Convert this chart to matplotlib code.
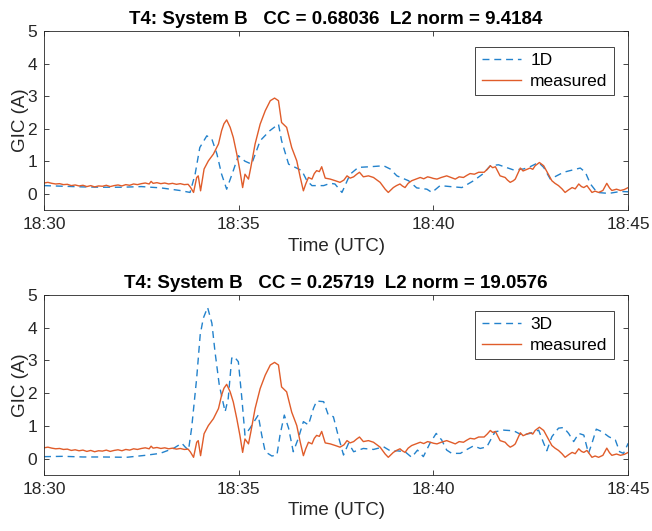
import matplotlib
matplotlib.use("Agg")
import matplotlib.pyplot as plt

# minutes after 18:30 UTC
meas_t = [0.0, 0.1, 0.2, 0.3, 0.4, 0.5, 0.6, 0.7, 0.8, 0.9, 1.0, 1.1, 1.2, 1.3, 1.4,
          1.5, 1.6, 1.7, 1.8, 1.9, 2.0, 2.1, 2.2, 2.3, 2.4, 2.5, 2.6, 2.7, 2.75, 2.8,
          2.9, 3.0, 3.1, 3.2, 3.3, 3.4, 3.5, 3.6, 3.7, 3.76, 3.84, 3.92, 3.96, 4.02,
          4.11, 4.22, 4.35, 4.48, 4.56, 4.62, 4.69, 4.78, 4.86, 4.95, 5.03, 5.1, 5.16,
          5.25, 5.31, 5.42, 5.55, 5.68, 5.81, 5.92, 6.02, 6.1, 6.23, 6.36, 6.49, 6.58,
          6.66, 6.72, 6.79, 6.88, 6.94, 7.0, 7.07, 7.13, 7.22, 7.35, 7.48, 7.6, 7.7,
          7.78, 7.86, 7.95, 8.03, 8.1, 8.2, 8.33, 8.46, 8.55, 8.63, 8.76, 8.84, 8.97,
          9.05, 9.14, 9.2, 9.27, 9.35, 9.44, 9.55, 9.66, 9.75, 9.85, 9.92, 10.0, 10.09,
          10.2, 10.34, 10.45, 10.56, 10.66, 10.77, 10.85, 10.94, 11.05, 11.16, 11.3,
          11.38, 11.46, 11.52, 11.59, 11.71, 11.84, 11.9, 11.97, 12.05, 12.1, 12.23,
          12.3, 12.36, 12.48, 12.55, 12.61, 12.72, 12.83, 12.95, 13.04, 13.12, 13.21,
          13.3, 13.38, 13.47, 13.56, 13.64, 13.73, 13.8, 13.86, 13.94, 14.07, 14.15,
          14.24, 14.35, 14.45, 14.52, 14.58, 14.7, 14.8, 14.9, 15.0]
meas_v = [0.33, 0.35, 0.32, 0.30, 0.31, 0.28, 0.29, 0.25, 0.27, 0.24, 0.26, 0.22, 0.25,
          0.21, 0.24, 0.23, 0.26, 0.22, 0.25, 0.27, 0.24, 0.28, 0.26, 0.30, 0.28, 0.31,
          0.33, 0.30, 0.38, 0.32, 0.34, 0.31, 0.33, 0.30, 0.32, 0.29, 0.31, 0.28, 0.29,
          0.20, 0.04, 0.50, 0.55, 0.09, 0.76, 1.01, 1.22, 1.53, 1.94, 2.15, 2.27, 2.04,
          1.73, 1.22, 0.71, 0.19, 0.60, 0.45, 0.81, 1.53, 2.14, 2.55, 2.86, 2.94, 2.86,
          2.19, 2.04, 1.42, 1.01, 0.50, 0.09, 0.30, 0.50, 0.45, 0.62, 0.71, 0.68, 0.83,
          0.48, 0.45, 0.40, 0.35, 0.42, 0.55, 0.48, 0.52, 0.60, 0.66, 0.52, 0.55, 0.50,
          0.42, 0.35, 0.14, 0.04, 0.19, 0.25, 0.30, 0.24, 0.19, 0.32, 0.40, 0.45, 0.50,
          0.46, 0.52, 0.50, 0.47, 0.45, 0.50, 0.55, 0.50, 0.45, 0.52, 0.50, 0.56, 0.62,
          0.60, 0.66, 0.66, 0.75, 0.86, 0.80, 0.83, 0.55, 0.50, 0.42, 0.35, 0.40, 0.45,
          0.79, 0.70, 0.73, 0.79, 0.75, 0.86, 0.96, 0.86, 0.60, 0.40, 0.32, 0.25, 0.15,
          0.04, 0.12, 0.19, 0.15, 0.30, 0.22, 0.19, 0.25, 0.04, 0.08, 0.04, 0.10, 0.32,
          0.18, 0.10, 0.14, 0.10, 0.13, 0.19]

m1d_t = [0.0, 0.5, 1.0, 1.5, 2.0, 2.5, 3.0, 3.49, 3.75, 3.88, 4.0, 4.18, 4.31, 4.44,
         4.56, 4.69, 4.86, 4.99, 5.16, 5.33, 5.55, 5.8, 6.02, 6.1, 6.28, 6.45, 6.62,
         6.75, 6.88, 7.18, 7.35, 7.47, 7.65, 7.86, 8.07, 8.37, 8.72, 8.89, 9.06, 9.36,
         9.57, 9.83, 9.96, 10.17, 10.43, 10.73, 11.03, 11.28, 11.46, 11.67, 12.06,
         12.31, 12.48, 12.7, 12.83, 13.0, 13.34, 13.77, 13.9, 14.03, 14.2, 14.5, 14.8,
         15.0]
m1d_v = [0.25, 0.23, 0.21, 0.2, 0.2, 0.22, 0.18, 0.1, 0.04, 0.6, 1.42, 1.78, 1.68, 1.22,
         0.6, 0.14, 0.71, 1.17, 1.0, 0.91, 1.63, 1.94, 2.14, 1.63, 0.91, 0.81, 0.71,
         0.4, 0.25, 0.25, 0.32, 0.3, 0.04, 0.6, 0.81, 0.83, 0.86, 0.76, 0.55, 0.4, 0.18,
         0.14, 0.04, 0.25, 0.22, 0.19, 0.4, 0.62, 0.86, 0.89, 0.73, 0.76, 0.83, 0.96,
         0.81, 0.45, 0.66, 0.79, 0.66, 0.3, 0.04, 0.01, 0.07, 0.06]

m3d_t = [0.0, 0.5, 1.0, 1.5, 2.12, 2.6, 2.98, 3.32, 3.54, 3.62, 3.71, 3.79, 3.92, 4.01,
         4.09, 4.2, 4.31, 4.39, 4.5, 4.65, 4.73, 4.82, 4.88, 4.99, 5.08, 5.16, 5.29,
         5.42, 5.5, 5.59, 5.68, 5.85, 5.98, 6.06, 6.17, 6.28, 6.4, 6.53, 6.66, 6.79,
         6.92, 7.0, 7.18, 7.3, 7.43, 7.56, 7.69, 7.82, 7.95, 8.2, 8.46, 8.72, 8.93,
         9.06, 9.27, 9.44, 9.59, 9.74, 9.91, 10.07, 10.21, 10.34, 10.47, 10.69, 10.86,
         11.03, 11.2, 11.37, 11.58, 11.8, 12.06, 12.27, 12.48, 12.7, 12.83, 12.91,
         13.04, 13.21, 13.34, 13.47, 13.6, 13.73, 13.86, 13.98, 14.07, 14.18, 14.33,
         14.5, 14.67, 14.78, 14.88, 15.0]
m3d_v = [0.06, 0.07, 0.05, 0.05, 0.04, 0.1, 0.16, 0.31, 0.47, 0.36, 0.26, 0.93, 2.46,
         3.78, 4.29, 4.62, 4.14, 3.27, 2.25, 1.43, 1.84, 3.07, 3.12, 2.96, 1.84, 0.72,
         0.93, 1.18, 1.33, 0.72, 0.21, 0.08, 0.11, 0.72, 1.33, 0.93, 0.21, 0.62, 1.13,
         1.03, 1.54, 1.76, 1.74, 1.33, 1.28, 0.67, 0.11, 0.47, 0.21, 0.31, 0.28, 0.36,
         0.21, 0.24, 0.21, 0.04, 0.26, 0.06, 0.47, 0.77, 0.57, 0.26, 0.16, 0.16, 0.28,
         0.39, 0.31, 0.36, 0.82, 0.87, 0.85, 0.72, 0.77, 0.87, 0.47, 0.24, 0.67, 0.93,
         0.95, 0.77, 0.52, 0.77, 0.72, 0.16, 0.47, 0.9, 0.82, 0.67, 0.57, 0.21, 0.16,
         0.47]

xtick_pos = [0, 5, 10, 15]
xtick_labels = ["18:30", "18:35", "18:40", "18:45"]
titles = ["T4: System B   CC = 0.68036  L2 norm = 9.4184",
          "T4: System B   CC = 0.25719  L2 norm = 19.0576"]
model_names = ["1D", "3D"]

plt.rcParams['font.family'] = ['Liberation Sans', 'DejaVu Sans']
blue = '#2382cc'
orange = '#e05c2a'

fig = plt.figure(figsize=(6.52, 5.31), dpi=100)
ax_rects = [[0.0675, 0.6045, 0.896, 0.337], [0.0675, 0.1055, 0.896, 0.339]]

for rect, title, name, (mt, mv) in zip(ax_rects, titles, model_names,
                                       [(m1d_t, m1d_v), (m3d_t, m3d_v)]):
    ax = fig.add_axes(rect)
    ax.plot(mt, mv, color=blue, lw=1.0, dashes=(5, 3.5), label=name)
    ax.plot(meas_t, meas_v, color=orange, lw=1.0, label='measured')
    ax.set_xlim(0, 15)
    ax.set_ylim(-0.5, 5)
    ax.set_yticks([0, 1, 2, 3, 4, 5])
    ax.set_xticks(xtick_pos)
    ax.set_xticklabels(xtick_labels)
    ax.tick_params(direction='in', top=True, right=True, length=3.5, width=0.6,
                   labelsize=12.5, colors='0.15', pad=5)
    for sp in ax.spines.values():
        sp.set_color('0.15')
        sp.set_linewidth(0.6)
    ax.set_xlabel('Time (UTC)', fontsize=13.5, color='0.15', labelpad=4)
    ax.set_ylabel('GIC (A)', fontsize=13.5, color='0.15', labelpad=-1)
    ax.set_title(title, fontsize=13.5, fontweight='bold', pad=5)
    leg = ax.legend(loc='upper right', bbox_to_anchor=(0.975, 0.91), fontsize=12.5,
                    fancybox=False, framealpha=1, edgecolor='0.15',
                    handlelength=2.3, borderpad=0.35, labelspacing=0.3,
                    handletextpad=0.5, borderaxespad=0)
    leg.get_frame().set_linewidth(0.6)

fig.savefig('out.png', dpi=100)
